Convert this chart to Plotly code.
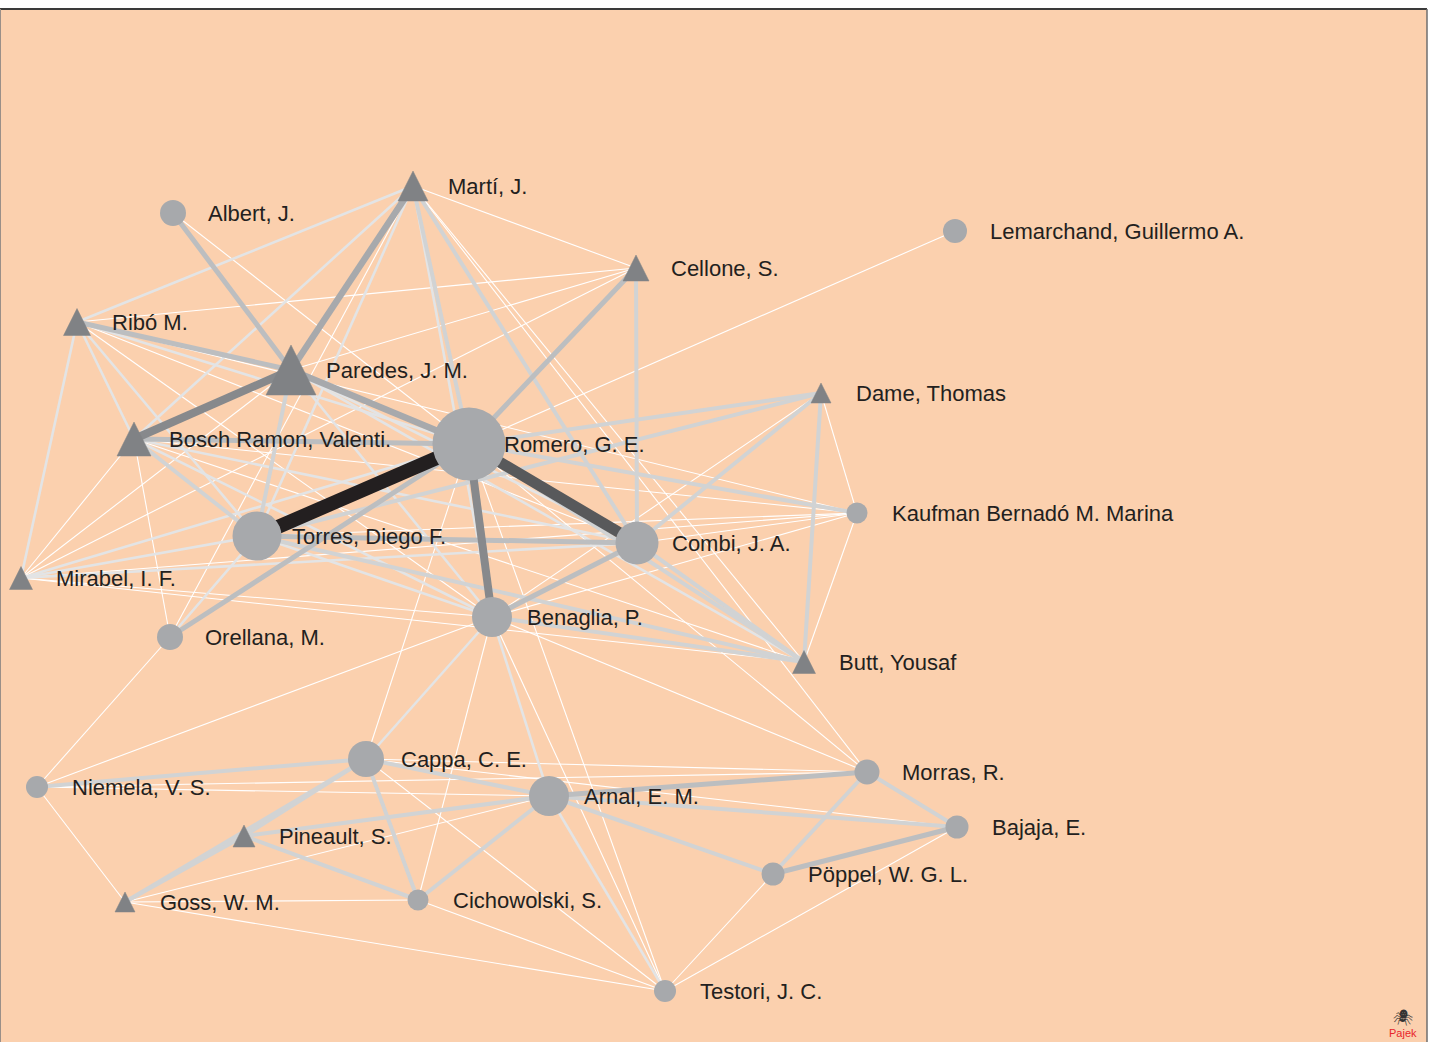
import plotly.graph_objects as go

# ---------------- data ----------------
node_key = ["R", "T", "C", "B", "A", "Ca", "P", "BR", "M", "Al", "Ri", "Ce", "L",
            "D", "K", "Bu", "Mi", "O", "N", "Pi", "G", "Ci", "Mo", "Ba", "Po", "Te"]
node_label = ["Romero, G. E.", "Torres, Diego F.", "Combi, J. A.", "Benaglia, P.",
              "Arnal, E. M.", "Cappa, C. E.", "Paredes, J. M.", "Bosch Ramon, Valenti.",
              "Martí, J.", "Albert, J.", "Ribó M.", "Cellone, S.",
              "Lemarchand, Guillermo A.", "Dame, Thomas", "Kaufman Bernadó M. Marina",
              "Butt, Yousaf", "Mirabel, I. F.", "Orellana, M.", "Niemela, V. S.",
              "Pineault, S.", "Goss, W. M.", "Cichowolski, S.", "Morras, R.",
              "Bajaja, E.", "Pöppel, W. G. L.", "Testori, J. C."]
# layout coordinates (Pajek drawing units)
node_x = [469, 257, 637, 492, 549, 366, 291, 134, 413, 173, 77, 636, 955,
          821, 857, 804, 21, 170, 37, 244, 125, 418, 867, 957, 773, 665]
node_y = [444, 536, 543, 617, 796, 759, 370, 439, 186, 213, 322, 268, 231,
          393, 513, 662, 578, 637, 787, 836, 902, 900, 772, 827, 874, 991]
node_value = [73, 49, 43, 40, 40, 36, 50, 34, 30, 26, 27, 26, 24,
              20, 21, 23, 23, 26, 22, 22, 20, 21, 25, 23, 23, 22]
node_kind = ["circle", "circle", "circle", "circle", "circle", "circle", "triangle",
             "triangle", "triangle", "circle", "triangle", "triangle", "circle",
             "triangle", "circle", "triangle", "triangle", "circle", "circle",
             "triangle", "triangle", "circle", "circle", "circle", "circle", "circle"]

edge_from = ["R", "R", "P", "R", "R", "M",
             "Al", "R", "R", "Ri", "C", "T", "O", "A", "Ba",
             "P", "Ca", "A", "A", "A", "A", "Ca", "Ca", "Pi", "Pi", "Ca", "Ca", "Mo", "Mo",
             "Ce", "M", "M", "D", "D", "D", "D", "K", "Bu", "Bu", "Bu", "Bu", "BR",
             "Ri", "Ri", "Ri", "Ri", "Ri", "M", "M", "M", "Mi", "Mi", "Mi", "BR", "BR",
             "P", "P", "P", "B", "B", "A", "T", "O",
             "L", "Ri", "Ri", "Ri", "Ri", "M", "M", "M", "M", "Ce", "Ce", "Al", "D", "D",
             "K", "K", "K", "K", "K", "K", "Mi", "Mi", "Mi", "Mi", "BR", "BR", "O", "N",
             "N", "N", "N", "G", "G", "G", "Te", "Te", "Te", "Te", "Te", "Te", "Mo", "Mo",
             "Mo", "Ca", "Ca", "B"]
edge_to = ["T", "C", "BR", "B", "P", "P",
           "P", "Ce", "BR", "P", "B", "C", "R", "Mo", "Po",
           "T", "A", "Ba", "Po", "Ci", "Pi", "Pi", "G", "G", "Ci", "Ci", "N", "Ba", "Po",
           "C", "R", "C", "R", "T", "C", "Bu", "R", "C", "R", "B", "T", "T",
           "M", "BR", "T", "R", "Mi", "BR", "T", "B", "T", "R", "C", "C", "B",
           "C", "B", "Bu", "A", "Ca", "Te", "B", "T",
           "R", "Ce", "C", "B", "K", "Ce", "Bu", "Mo", "O", "Mi", "P", "R", "K", "B",
           "Bu", "T", "B", "Mi", "BR", "C", "B", "Bu", "BR", "P", "Bu", "O", "N", "B",
           "G", "A", "Mo", "Ci", "Te", "A", "B", "R", "Po", "Ba", "Ci", "Ca", "B", "R",
           "Ca", "Ba", "R", "Ci"]
edge_weight = [10, 8, 6, 6, 5, 5,
               4, 4, 4, 4, 4, 4, 4, 4, 4,
               3, 3, 3, 3, 3, 3, 3, 3, 3, 3, 3, 3, 3, 3,
               3, 3, 3, 3, 3, 3, 3, 3, 3, 3, 3, 3, 3,
               2, 2, 2, 2, 2, 2, 2, 2, 2, 2, 2, 2, 2,
               2, 2, 2, 2, 2, 2, 2, 2,
               1, 1, 1, 1, 1, 1, 1, 1, 1, 1, 1, 1, 1, 1,
               1, 1, 1, 1, 1, 1, 1, 1, 1, 1, 1, 1, 1, 1,
               1, 1, 1, 1, 1, 1, 1, 1, 1, 1, 1, 1, 1, 1,
               1, 1, 1, 1]

# ---------------- styles ----------------
edge_style = {
    1: ("#FFFFFF", 1.1),
    2: ("#E3E4E5", 2.6),
    3: ("#D1D3D4", 4.0),
    4: ("#BCBEC0", 5.0),
    5: ("#A7A9AC", 6.5),
    6: ("#87898C", 8.0),
    8: ("#58595B", 11.0),
    10: ("#231F20", 14.0),
}
BG = "#FBD0AE"
CIRCLE_COLOR = "#A7A9AC"
TRI_COLOR = "#808285"
TEXT_COLOR = "#231F20"
LABEL_OFFSET = 34
FONT = "Liberation Sans, Arial, Helvetica, sans-serif"

idx = {k: i for i, k in enumerate(node_key)}

fig = go.Figure()

# edges grouped by weight, thin ones first
for w in sorted(set(edge_weight)):
    xs, ys = [], []
    for f, t, ew in zip(edge_from, edge_to, edge_weight):
        if ew != w:
            continue
        i, j = idx[f], idx[t]
        xs += [node_x[i], node_x[j], None]
        ys += [node_y[i], node_y[j], None]
    color, width = edge_style[w]
    fig.add_trace(go.Scatter(x=xs, y=ys, mode="lines",
                             line=dict(color=color, width=width),
                             hoverinfo="skip", showlegend=False))

# triangle nodes as filled polygons (isosceles, height = base)
tx, ty = [], []
for k, x, y, s in zip(node_kind, node_x, node_y, node_value):
    if k != "triangle":
        continue
    h = s / 2.0
    tx += [x - h, x + h, x, x - h, None]
    ty += [y + h, y + h, y - h, y + h, None]
fig.add_trace(go.Scatter(x=tx, y=ty, mode="lines", fill="toself",
                         fillcolor=TRI_COLOR, line=dict(color=TRI_COLOR, width=0.5),
                         hoverinfo="skip", showlegend=False))

# circle nodes
cx = [x for k, x in zip(node_kind, node_x) if k == "circle"]
cy = [y for k, y in zip(node_kind, node_y) if k == "circle"]
cs = [s for k, s in zip(node_kind, node_value) if k == "circle"]
fig.add_trace(go.Scatter(x=cx, y=cy, mode="markers",
                         marker=dict(symbol="circle", size=cs, color=CIRCLE_COLOR,
                                     opacity=1, line=dict(width=0)),
                         hoverinfo="skip", showlegend=False))

# labels
for lab, x, y in zip(node_label, node_x, node_y):
    fig.add_annotation(x=x + LABEL_OFFSET, y=y, text=lab, showarrow=False,
                       xanchor="left", yanchor="middle", borderpad=0,
                       font=dict(family=FONT, size=22, color=TEXT_COLOR))

# Pajek mark
fig.add_annotation(x=1403, y=1033, text="Pajek", showarrow=False,
                   xanchor="center", yanchor="middle",
                   font=dict(family=FONT, size=11, color="#E8242B"))
fig.add_annotation(x=1403, y=1017, text="🕷", showarrow=False,
                   xanchor="center", yanchor="middle",
                   font=dict(size=16, color="#333333"))

# frame
fig.add_shape(type="line", xref="paper", yref="paper", x0=0, x1=1, y0=1, y1=1,
              line=dict(color="#3A3A3A", width=2))
fig.add_shape(type="line", xref="paper", yref="paper", x0=0, x1=0, y0=0, y1=1,
              line=dict(color="#9A8F88", width=2))
fig.add_shape(type="line", xref="paper", yref="paper", x0=1, x1=1, y0=0, y1=1,
              line=dict(color="#6E6E6E", width=1.5))

fig.update_layout(
    width=1429, height=1042,
    margin=dict(l=0, r=2, t=9, b=0),
    paper_bgcolor="#FFFFFF", plot_bgcolor=BG,
    xaxis=dict(range=[0, 1427], visible=False, showgrid=False, zeroline=False),
    yaxis=dict(range=[1042, 9], visible=False, showgrid=False, zeroline=False),
    showlegend=False,
)

fig.write_html("out.html",
               config={"displayModeBar": False},
               post_script="document.body.style.margin='0';"
                           "document.body.style.overflow='hidden';")
